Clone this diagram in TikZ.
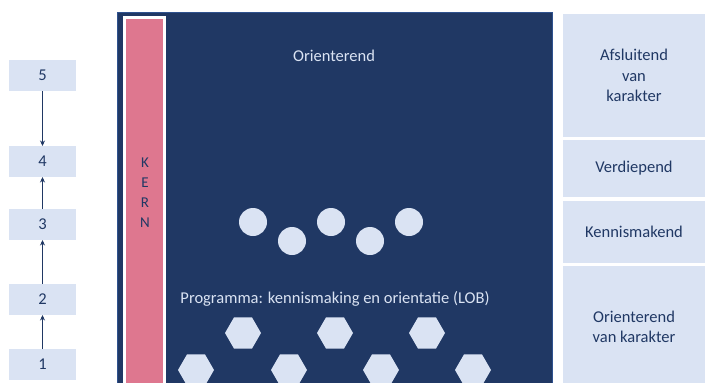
\documentclass[tikz,border=0pt]{standalone}
\usepackage{fontspec}
\setmainfont{Carlito}
\usepackage{tikz}
\usetikzlibrary{arrows.meta,%
                shapes.geometric}
\definecolor{donkerblauw}{RGB}{32,56,100}
\definecolor{randblauw}{RGB}{47,82,143}
\definecolor{lichtblauw}{RGB}{218,227,243}
\definecolor{kernroze}{RGB}{222,119,143}

\begin{document}
\begin{tikzpicture}[x=1pt,y=-1pt,
		every node/.style={font=\fontsize{16.5}{20.5}\selectfont,inner sep=0pt,outer sep=0pt},
		NumStyle/.style={fill=lichtblauw,text=donkerblauw,minimum width=67pt,minimum height=31pt},
		FaseStyle/.style={fill=lichtblauw,text=donkerblauw,align=center,minimum width=142pt},
		EdgeStyle/.style={draw=donkerblauw,line width=0.9pt,-{Stealth[length=5.5pt,width=5pt]}}]
		\path[use as bounding box,clip] (0,0) rectangle (705,383);
		%\draw[help lines] (0,0) grid[step=50] (705,383);
		% niveaus links
		\node[NumStyle] (N5) at (42.5,75.5) {5};
		\node[NumStyle] (N4) at (42.5,161.5) {4};
		\node[NumStyle] (N3) at (42.5,224.5) {3};
		\node[NumStyle] (N2) at (42.5,299.5) {2};
		\node[NumStyle] (N1) at (42.5,364.5) {1};
		\draw[EdgeStyle] (N1) -- (N2);
		\draw[EdgeStyle] (N2) -- (N3);
		\draw[EdgeStyle] (N3) -- (N4);
		\draw[EdgeStyle,{Stealth[length=5.5pt,width=5pt]}-] (N4) -- (N5);
		% blok midden
		\node[draw=randblauw,line width=1.2pt,fill=donkerblauw,anchor=north west,
			minimum width=435pt,minimum height=390pt] (Blok) at (117.6,12.6) {};
		\node[draw=white,line width=3pt,fill=kernroze,anchor=north west,
			minimum width=40pt,minimum height=380pt] (Kern) at (124.5,17.5) {};
		\node[text=donkerblauw,align=center,font=\fontsize{15}{20}\selectfont] (KernTxt) at (145,193) {K\\E\\R\\N};
		\node[text=lichtblauw] (Orient) at (334,56) {Orienterend};
		\node[text=lichtblauw] (Prog) at (335,299) {Programma: kennismaking en orientatie (LOB)};
		{
			\tikzset{every node/.append style={circle,fill=lichtblauw,minimum size=28pt}}
			\node (C1) at (253,222) {};
			\node (C2) at (292,241) {};
			\node (C3) at (331,222) {};
			\node (C4) at (370,241) {};
			\node (C5) at (409,222) {};
		}
		{
			\tikzset{every node/.append style={regular polygon,regular polygon sides=6,
				fill=lichtblauw,minimum size=36pt}}
			\node (H1) at (243,333) {};
			\node (H2) at (335,333) {};
			\node (H3) at (427,333) {};
			\node (H4) at (196,370) {};
			\node (H5) at (289,370) {};
			\node (H6) at (381,370) {};
			\node (H7) at (473,370) {};
		}
		% fasen rechts
		\node[FaseStyle,minimum height=123pt] (Afsl) at (634,75.5) {Afsluitend\\van\\karakter};
		\node[FaseStyle,minimum height=57pt] (Verd) at (634,168.5) {Verdiepend};
		\node[FaseStyle,minimum height=62pt] (Kenn) at (634,232) {Kennismakend};
		\node[FaseStyle,minimum height=122pt] (Orie) at (634,327) {Orienterend\\van karakter};
	\end{tikzpicture}
\end{document}
